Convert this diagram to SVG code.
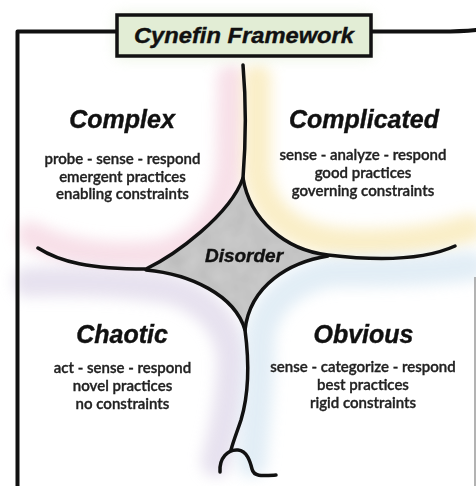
<svg xmlns="http://www.w3.org/2000/svg" width="476" height="486" viewBox="0 0 476 486">
  <defs>
    <filter id="wash" x="-30%" y="-30%" width="160%" height="160%">
      <feGaussianBlur stdDeviation="7"/>
    </filter>
    <filter id="grain" x="0" y="0" width="100%" height="100%">
      <feTurbulence type="fractalNoise" baseFrequency="0.06" numOctaves="2" seed="4" result="n"/>
      <feColorMatrix in="n" type="matrix" values="0 0 0 0 0  0 0 0 0 0  0 0 0 0 0  0 0 0 0.18 0" result="d"/>
      <feComposite in="d" in2="SourceGraphic" operator="in" result="dm"/>
      <feMerge><feMergeNode in="SourceGraphic"/><feMergeNode in="dm"/></feMerge>
    </filter>
    <style>
      .frame { fill: none; stroke: #111; stroke-width: 4; stroke-linecap: round; stroke-linejoin: round; }
      .edge { fill: none; stroke: #111; stroke-width: 3.5; stroke-linecap: round; stroke-linejoin: round; }
      .wash { fill: none; stroke-linecap: round; stroke-linejoin: round; filter: url(#wash); }
      .head { font-family: "Liberation Sans", "DejaVu Sans", sans-serif; font-weight: bold; font-style: italic; fill: #111; stroke: #111; stroke-width: 0.4; text-anchor: middle; }
      .body { font-family: Lato, "Open Sans", "Liberation Sans", sans-serif; font-weight: 600; font-size: 15px; fill: #222; stroke: #222; stroke-width: 0.35; text-anchor: middle; }
    </style>
  </defs>

  <rect width="476" height="486" fill="#ffffff"/>

  <!-- soft watercolour washes along each domain boundary -->
  <g id="washes" opacity="0.7">
    <path class="wash" stroke="#f4d3df" stroke-width="28" d="M30,235 C70,256 120,258 160,254 C205,242 226,208 230,160 L231,78"/>
    <path class="wash" stroke="#f8e7b0" stroke-width="28" d="M257,78 L257,170 C262,218 300,238 340,242 C390,246 440,238 470,228"/>
    <path class="wash" stroke="#ddd5e8" stroke-width="30" d="M28,282 C80,280 130,283 170,289 C212,302 230,330 232,360 C231,400 224,430 216,462"/>
    <path class="wash" stroke="#d6e6f2" stroke-width="30" d="M470,266 C420,272 370,272 332,272 C288,280 262,308 260,340 C260,390 255,420 252,462"/>
    <rect x="115" y="13" width="258" height="46" rx="6" fill="#e4efd8" filter="url(#wash)"/>
  </g>

  <!-- outer frame -->
  <g id="frame">
    <path class="frame" d="M17.5,486 L17.5,31.5 L117,31.5"/>
    <path class="frame" d="M371,31.5 L440,31.5 C455,31.5 466,31 476,30"/>
    <line x1="475" y1="277" x2="475" y2="486" stroke="#9a9a9a" stroke-width="1.5"/>
  </g>

  <!-- title -->
  <g id="title">
    <rect x="117" y="15" width="254" height="41" fill="#e2edd5" stroke="#111" stroke-width="3.5"/>
    <text class="head" x="244" y="43" font-size="22.5" textLength="220" lengthAdjust="spacingAndGlyphs">Cynefin Framework</text>
  </g>

  <!-- central disorder region -->
  <g id="disorder">
    <path d="M243,178 C250,220 285,250 328,255 C290,262 250,285 245,330 C235,295 190,274 146,270 C175,255 230,215 243,178 Z" fill="#cdcdcd" filter="url(#grain)"/>
    <text class="head" x="244" y="262" font-size="19">Disorder</text>
  </g>

  <!-- domain boundaries -->
  <g id="connectors">
    <path class="edge" d="M38,248 C60,262 90,269 146,269 C175,255 230,215 243,178 C246,140 246,100 243,65"/>
    <path class="edge" d="M243,178 C250,220 285,250 328,255 C370,260 420,262 455,246"/>
    <path class="edge" d="M146,270 C190,274 235,295 245,330 C249,360 250,390 241,420 C237,432 233,442 231,450"/>
    <path class="edge" d="M328,256 C290,262 250,285 245,330"/>
    <path class="edge" d="M220,472 C219,458 228,449 238,450 C247,451 250,461 252,469 C254,477 262,476 276,475"/>
  </g>

  <g id="complex">
    <text class="head" x="122" y="128" font-size="25">Complex</text>
    <text class="body" x="122.5" y="164">probe - sense - respond</text>
    <text class="body" x="122.5" y="182">emergent practices</text>
    <text class="body" x="122.5" y="199">enabling constraints</text>
  </g>

  <g id="complicated">
    <text class="head" x="364" y="128" font-size="25">Complicated</text>
    <text class="body" x="363" y="160">sense - analyze - respond</text>
    <text class="body" x="363" y="178">good practices</text>
    <text class="body" x="363" y="196">governing constraints</text>
  </g>

  <g id="chaotic">
    <text class="head" x="122" y="343" font-size="25">Chaotic</text>
    <text class="body" x="122.5" y="373">act - sense - respond</text>
    <text class="body" x="122.5" y="391">novel practices</text>
    <text class="body" x="122.5" y="409">no constraints</text>
  </g>

  <g id="obvious">
    <text class="head" x="363.5" y="343" font-size="25">Obvious</text>
    <text class="body" x="363" y="372">sense - categorize - respond</text>
    <text class="body" x="363" y="390">best practices</text>
    <text class="body" x="363" y="408">rigid constraints</text>
  </g>
</svg>
